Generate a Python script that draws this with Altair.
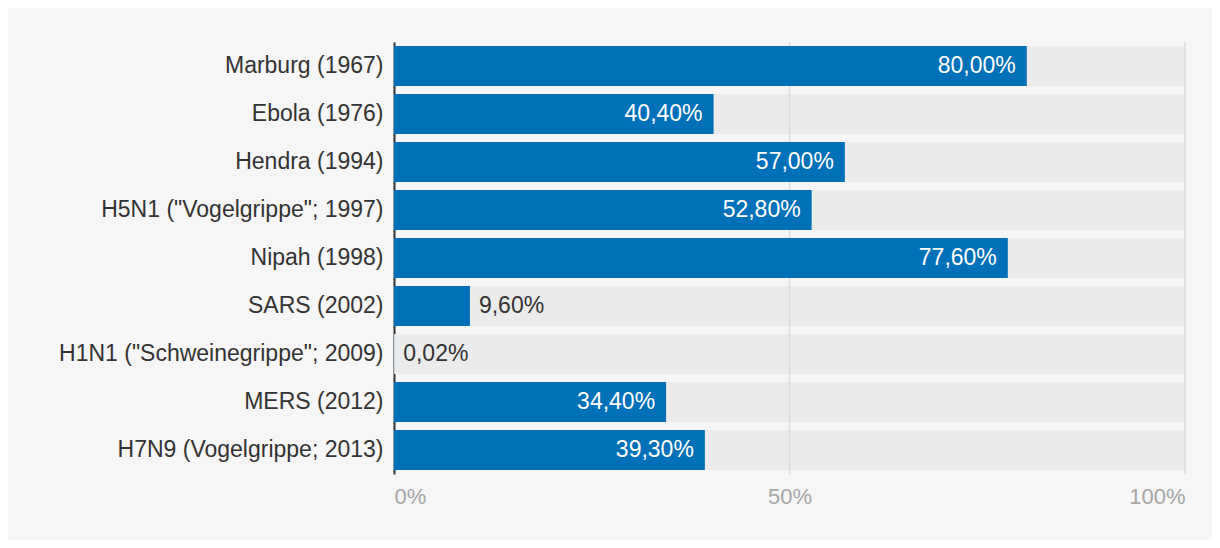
import altair as alt
import pandas as pd

categories = [
    "Marburg (1967)",
    "Ebola (1976)",
    "Hendra (1994)",
    'H5N1 ("Vogelgrippe"; 1997)',
    "Nipah (1998)",
    "SARS (2002)",
    'H1N1 ("Schweinegrippe"; 2009)',
    "MERS (2012)",
    "H7N9 (Vogelgrippe; 2013)",
]
values = [80.0, 40.4, 57.0, 52.8, 77.6, 9.6, 0.02, 34.4, 39.3]
x_ticks = [0, 50, 100]

labels = [f"{v:.2f}".replace(".", ",") + "%" for v in values]
df = pd.DataFrame({"cat": categories, "v": values, "label": labels, "full": [100] * len(values)})
df["inside"] = df["v"] >= 20
grid = pd.DataFrame({"g": [50, 100]})

FONT = "Liberation Sans"
FS = 23
BLUE = "#0070b8"

y = alt.Y("cat:N", sort=categories, title=None,
          scale=alt.Scale(paddingInner=8 / 48, paddingOuter=4 / 48),
          axis=alt.Axis(labelFontSize=FS, labelColor="#333333", labelFont=FONT,
                        ticks=False, labelPadding=11, domainColor="#333333",
                        domainWidth=2, labelLimit=400))
xscale = alt.Scale(domain=[0, 100], nice=False)
xaxis = alt.Axis(values=x_ticks, labelExpr="datum.value + '%'", grid=False,
                 ticks=False, domain=False, labelFontSize=22, labelColor="#a6a6a6",
                 labelFont=FONT, labelPadding=12, title=None)

base = alt.Chart(df)
bg = base.mark_bar(color="#ebebeb").encode(
    x=alt.X("full:Q", scale=xscale, axis=xaxis), y=y)
rules = alt.Chart(grid).mark_rule(color="#dddddd", strokeWidth=1.5).encode(
    x=alt.X("g:Q", scale=xscale))
bars = base.mark_bar(color=BLUE).encode(x=alt.X("v:Q", scale=xscale), y=y)
txt_in = base.transform_filter("datum.inside").mark_text(
    align="right", dx=-11, color="white", fontSize=FS, font=FONT).encode(
    x=alt.X("v:Q", scale=xscale), y=y, text="label:N")
txt_out = base.transform_filter("!datum.inside").mark_text(
    align="left", dx=9, color="#333333", fontSize=FS, font=FONT).encode(
    x=alt.X("v:Q", scale=xscale), y=y, text="label:N")

chart = alt.layer(bg, rules, bars, txt_in, txt_out).properties(
    width=791, height=432,
    background="#f6f6f6",
    padding={"left": 386, "top": 34, "right": 27, "bottom": 66},
    autosize=alt.AutoSizeParams(type="none"),
).configure_view(stroke=None)

chart.save("out.html", embed_options={"renderer": "svg", "actions": False})
